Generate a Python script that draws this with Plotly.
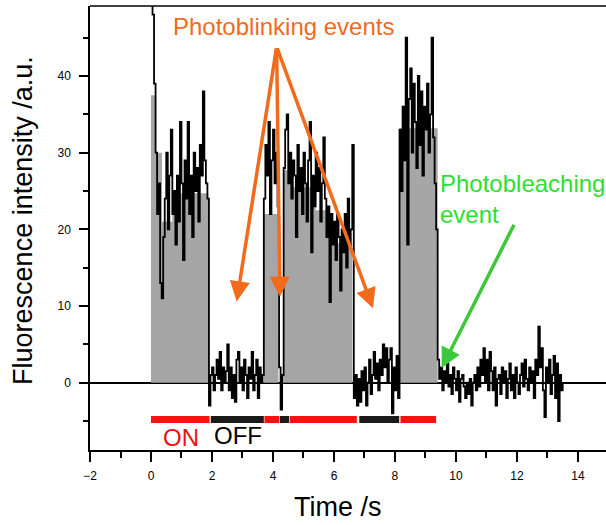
import numpy as np
import plotly.graph_objects as go

# ---------------- data ----------------
dt = 0.05  # sampling interval of the trace, s

on1 = [50, 48, 39, 30, 22, 26, 13, 11, 19, 24,
       30, 20, 27, 33, 22, 25, 18, 27, 21, 34,
       26, 16, 29, 24, 34, 22, 27, 19, 30, 25,
       28, 21, 31, 27, 38, 29, 26, 24]
off1 = [-3, 1, 2, -1, 1, 3, 0.5, 4, -1, 2,
        0, 1.5, 5, -1, 2, -2, 1, -2.5, 3, 4,
        0, 2, -1, 3, 1, -2, 2, 0.5, 4, -1,
        1, 3, -2, 2, 0, 1]
on2a = [24, 31, 27, 34, 22, 29, 33, 26, 30, 23]
blink = [2, -3.5, 1]
on2b = [28, 33, 35, 26, 30, 24, 29, 27, 19, 31,
        25, 28, 22, 30, 26, 21, 29, 34, 17, 27,
        23, 30, 25, 28, 21, 26, 32, 24, 19, 23,
        10.5, 22, 18, 21, 16, 22, 19, 12, 20, 17,
        22, 15, 24, 18, 20]
off2 = [31, -2, 1, -3, 0.5, -2.5, 1.5, -1, 2, -3,
        0, 3, -1.5, 1, 4, 0.5, 2.5, -1, 3, 1,
        5, 2, 4.5, 0, 3, 4.5, -4, 2, -1, 3.5, -2]
on3 = [33, 25, 36, 29, 45, 18, 37, 41, 30, 39,
       34, 28, 40, 31, 38, 27, 36, 33, 39, 30,
       35, 45, 32, 26, 20]
bleached = [3, 0.5, 2, -1, 1.5, 0, 2.5, -0.5, 1, -1.5,
            2, 0.5, -1, 1.5, -2.5, 0.5, 1, -0.5, -2, 0,
            -1.5, 0.5, -3, 0, 1, -1, 2, -0.5, 3, 1,
            4.5, 0, 3, -1, 4, 1.5, -1, 2, -3, 0.5,
            1, -1.5, 2, 0, 1.5, -2, 0.5, 2.5, -1, 1,
            -2, 2, 0, -1.5, 1, 2.5, -0.5, 3, 0.5, -1,
            2, 0, 1.5, -2, 3, 1, 7.3, 2, 4.5, -1,
            -4.5, 2, 0, 3, -1.5, 1, 3.5, -2, 2.5, -5,
            1, -1, 0]

# fitted intensity level (grey columns)
level_t = [0, 0.13, 0.36, 0.70, 1.88, 3.68, 4.18, 4.33, 4.60, 5.40, 5.85, 6.60, 8.16, 9.40]
level_v = [37.5, 30, 21, 24.7, 0, 22, 0, 27.7, 25.5, 22.5, 18.2, 0, 33.2, 0]

# ON / OFF state bar
state_start = [0.0, 1.96, 3.72, 4.22, 4.55, 6.83, 8.18]
state_end = [1.92, 3.70, 4.20, 4.53, 6.75, 8.14, 9.35]
state_kind = ["ON", "OFF", "ON", "OFF", "ON", "OFF", "ON"]

x_ticks = [-2, 0, 2, 4, 6, 8, 10, 12, 14]
y_ticks = [0, 10, 20, 30, 40]

# ---------------- figure ----------------
signal = np.array(on1 + off1 + on2a + blink + on2b + off2 + on3 + bleached, dtype=float)
time = np.round(np.arange(len(signal)) * dt, 3)

ORANGE = "#F26B1D"
GREEN_T = "#2EE02E"
GREEN_A = "#3CC83C"
FONT = "Arial, Liberation Sans, sans-serif"

fig = go.Figure()

fig.add_trace(go.Scatter(x=level_t, y=level_v, mode="lines", line=dict(shape="hv", width=0, color="#a6a6a6"),
                         fill="tozeroy", fillcolor="#a6a6a6", hoverinfo="skip", showlegend=False))
fig.add_trace(go.Scatter(x=time, y=signal, mode="lines", line=dict(shape="hv", width=1.8, color="black"),
                         showlegend=False))

BAR_Y = -4.8
state_color = {"ON": "#ff1010", "OFF": "#1a1a1a"}
for s, e, k in zip(state_start, state_end, state_kind):
    fig.add_trace(go.Scatter(x=[s, e], y=[BAR_Y, BAR_Y], mode="lines",
                             line=dict(color=state_color[k], width=7), showlegend=False, hoverinfo="skip"))

ann = []
# photoblinking arrows
src = (4.12, 43.8)
for tip in [(2.81, 10.6), (4.23, 11.2), (7.28, 9.7)]:
    ann.append(dict(x=tip[0], y=tip[1], ax=src[0], ay=src[1], xref="x", yref="y", axref="x", ayref="y",
                    text="", showarrow=True, arrowhead=2, arrowsize=1.15, arrowwidth=3.5, arrowcolor=ORANGE))
ann.append(dict(x=9.53, y=1.9, ax=11.93, ay=20.8, xref="x", yref="y", axref="x", ayref="y",
                text="", showarrow=True, arrowhead=2, arrowsize=1.15, arrowwidth=3.5, arrowcolor=GREEN_A))

ann.append(dict(x=4.33, y=46.4, xref="x", yref="y", text="Photoblinking events", showarrow=False,
                font=dict(family=FONT, size=24, color=ORANGE), xanchor="center", yanchor="middle"))
ann.append(dict(x=9.42, y=28.0, xref="x", yref="y", text="Photobleaching<br>event", showarrow=False, align="left",
                font=dict(family=FONT, size=24, color=GREEN_T), xanchor="left", yanchor="top"))
ann.append(dict(x=1.0, y=-7.1, xref="x", yref="y", text="ON", showarrow=False,
                font=dict(family=FONT, size=24, color="#ee1111"), xanchor="center", yanchor="middle"))
ann.append(dict(x=2.85, y=-6.95, xref="x", yref="y", text="OFF", showarrow=False,
                font=dict(family=FONT, size=24, color="black"), xanchor="center", yanchor="middle"))
# axis titles
ann.append(dict(x=-0.13, y=0.518, xref="paper", yref="paper", text="Fluorescence intensity /a.u.", textangle=-90,
                showarrow=False, font=dict(family=FONT, size=27, color="black"), xanchor="center", yanchor="middle"))
ann.append(dict(x=0.4806, y=-0.128, xref="paper", yref="paper", text="Time /s",
                showarrow=False, font=dict(family=FONT, size=27, color="black"), xanchor="center", yanchor="middle"))

fig.update_layout(
    width=606, height=525,
    margin=dict(l=90, r=0, t=6, b=75, pad=0),
    paper_bgcolor="white", plot_bgcolor="white",
    annotations=ann,
    shapes=[dict(type="line", xref="paper", yref="paper", x0=0, x1=1, y0=1, y1=1,
                 line=dict(color="black", width=1.5))],
    xaxis=dict(range=[-2, 14.92], tickvals=x_ticks, ticks="outside", ticklen=10, tickwidth=1.5,
               tickcolor="black", showline=True, linecolor="black", linewidth=1.5, showgrid=False,
               zeroline=False, ticklabelstandoff=4,
               minor=dict(dtick=1, tick0=-2, ticks="outside", ticklen=6, tickwidth=1.5, tickcolor="black"),
               tickfont=dict(family=FONT, size=12, color="black")),
    yaxis=dict(range=[-8.78, 49.13], tickvals=y_ticks, ticks="outside", ticklen=9, tickwidth=1.5,
               tickcolor="black", showline=True, linecolor="black", linewidth=1.5, showgrid=False,
               zeroline=True, zerolinecolor="black", zerolinewidth=1.5, ticklabelstandoff=6,
               minor=dict(dtick=5, tick0=0, ticks="outside", ticklen=5, tickwidth=1.5, tickcolor="black"),
               tickfont=dict(family=FONT, size=12, color="black")),
)

fig.write_html("out.html")
